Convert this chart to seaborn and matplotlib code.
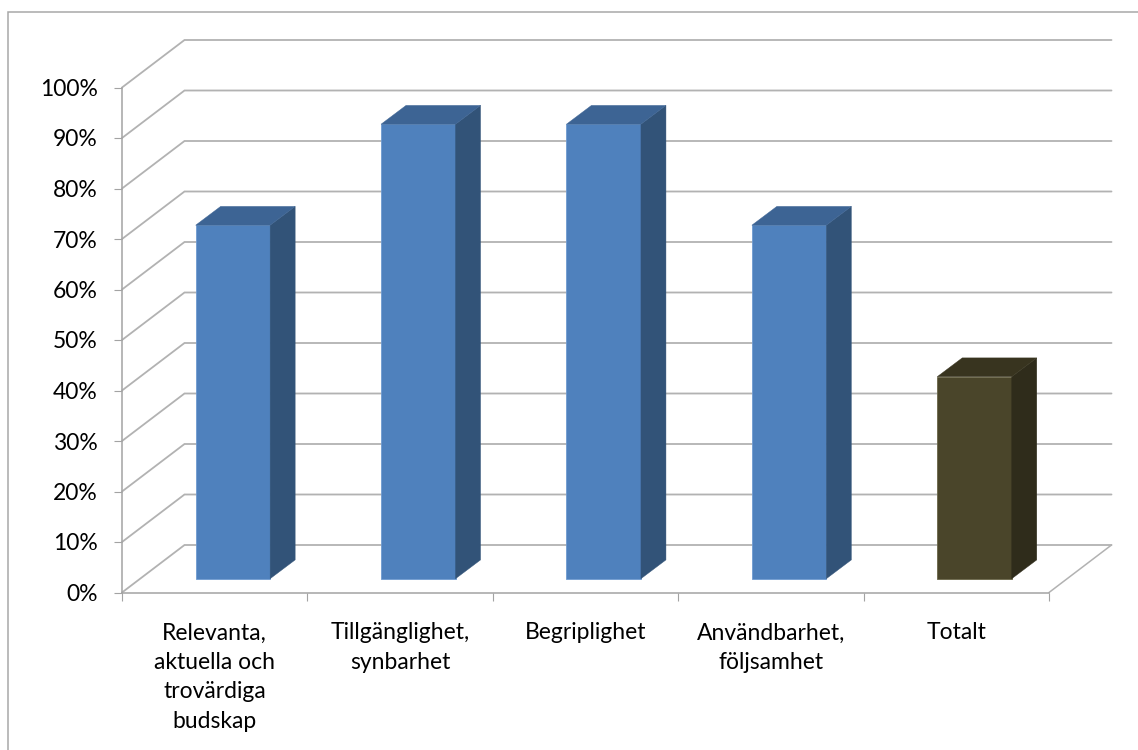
import matplotlib
matplotlib.use("Agg")
import matplotlib.pyplot as plt
from matplotlib.patches import Rectangle
from matplotlib.ticker import FuncFormatter
import pandas as pd
import seaborn as sns

categories = ["Relevanta,\naktuella och\ntrovärdiga\nbudskap", "Tillgänglighet,\nsynbarhet",
              "Begriplighet", "Användbarhet,\nföljsamhet", "Totalt"]
values = [70, 90, 90, 70, 40]
front_colors = ["#4F81BD", "#4F81BD", "#4F81BD", "#4F81BD", "#4A452A"]
side_colors = ["#325378", "#325378", "#325378", "#325378", "#2F2C1B"]
top_colors = ["#3D6494", "#3D6494", "#3D6494", "#3D6494", "#38341F"]
edge_colors = ["#6F9AD0", "#6F9AD0", "#6F9AD0", "#6F9AD0", "#6A6648"]
y_ticks = list(range(0, 101, 10))

W, H = 1138, 750
sns.set_theme(style="white")
plt.rcParams["font.family"] = ["Lato", "DejaVu Sans"]

fig = plt.figure(figsize=(W / 100, H / 100), dpi=100, facecolor="white")
L, R, T, B = 122, 1049, 87.5, 592.5
ax = fig.add_axes([L / W, 1 - B / H, (R - L) / W, (B - T) / H], facecolor="none")

GRID = "#B2B2B2"
AX = "#A3A3A3"
cell = (R - L) / 5
ppv = (B - T) / 100
wall_dx, wall_dy = 62.5 / cell, 47.5 / ppv
bar_dx, bar_dy = 18.2 / cell, 13.8 / ppv
depth_dx, depth_dy = 25 / cell, 18.8 / ppv
bar_w = 74.5 / cell

df = pd.DataFrame({"cat": categories, "val": values})
sns.barplot(data=df, x="cat", y="val", hue="cat", palette=front_colors, saturation=1,
            width=bar_w, legend=False, ax=ax, zorder=3, dodge=False)
ax.set_xlim(-0.5, 4.5)
ax.set_ylim(0, 100)
ax.set_xlabel("")
ax.set_ylabel("")

# gridlines on the back wall and left wall
x0, x1 = -0.5, 4.5
for v in y_ticks:
    ax.plot([x0, x0 + wall_dx, x1 + wall_dx], [v, v + wall_dy, v + wall_dy],
            color=GRID, lw=1.3, clip_on=False, zorder=1, solid_joinstyle="miter")
ax.plot([x1, x1 + wall_dx], [0, wall_dy], color=GRID, lw=1.1, clip_on=False, zorder=1)

# shift bars into the depth and add the side and top faces
bars = [p for p in ax.patches if p.get_height() > 0]
bars.sort(key=lambda p: p.get_x())
for i, p in enumerate(bars):
    p.set_x(p.get_x() + bar_dx)
    p.set_y(bar_dy)
    p.set_edgecolor(edge_colors[i])
    p.set_linewidth(0.6)
    p.set_clip_on(False)
    xa, xb = p.get_x(), p.get_x() + p.get_width()
    yb, yt = bar_dy, bar_dy + p.get_height()
    ax.fill([xb, xb + depth_dx, xb + depth_dx, xb], [yb, yb + depth_dy, yt + depth_dy, yt],
            color=side_colors[i], lw=0.3, clip_on=False, zorder=3)
    ax.fill([xa, xb, xb + depth_dx, xa + depth_dx], [yt, yt, yt + depth_dy, yt + depth_dy],
            color=top_colors[i], lw=0.3, clip_on=False, zorder=3)

# axes
for s in ("top", "right"):
    ax.spines[s].set_visible(False)
for s in ("left", "bottom"):
    ax.spines[s].set_color(AX)
    ax.spines[s].set_linewidth(1.1)
ax.set_yticks(y_ticks)
ax.yaxis.set_major_formatter(FuncFormatter(lambda v, _: f"{int(v)}%"))
ax.set_xticks(range(len(categories)))
ax.set_xticklabels(categories, linespacing=1.5)
ax.set_xticks([x0 + k for k in range(6)], minor=True)
ax.tick_params(axis="y", length=5.8, width=0.8, color=AX, pad=11.5, labelsize=16.5, labelcolor="black", left=True)
ax.tick_params(axis="x", which="major", length=0, pad=21.5, labelsize=16.5, labelcolor="black")
ax.tick_params(axis="x", which="minor", length=5.8, width=0.8, color=AX, bottom=True)

# chart frame
fig.add_artist(Rectangle((8 / W, -0.05), 1.1, 1 - 12 / H + 0.05, transform=fig.transFigure,
                         fill=False, edgecolor="#A8A8A8", linewidth=1.1))

fig.savefig("out.png", dpi=100, facecolor="white")
